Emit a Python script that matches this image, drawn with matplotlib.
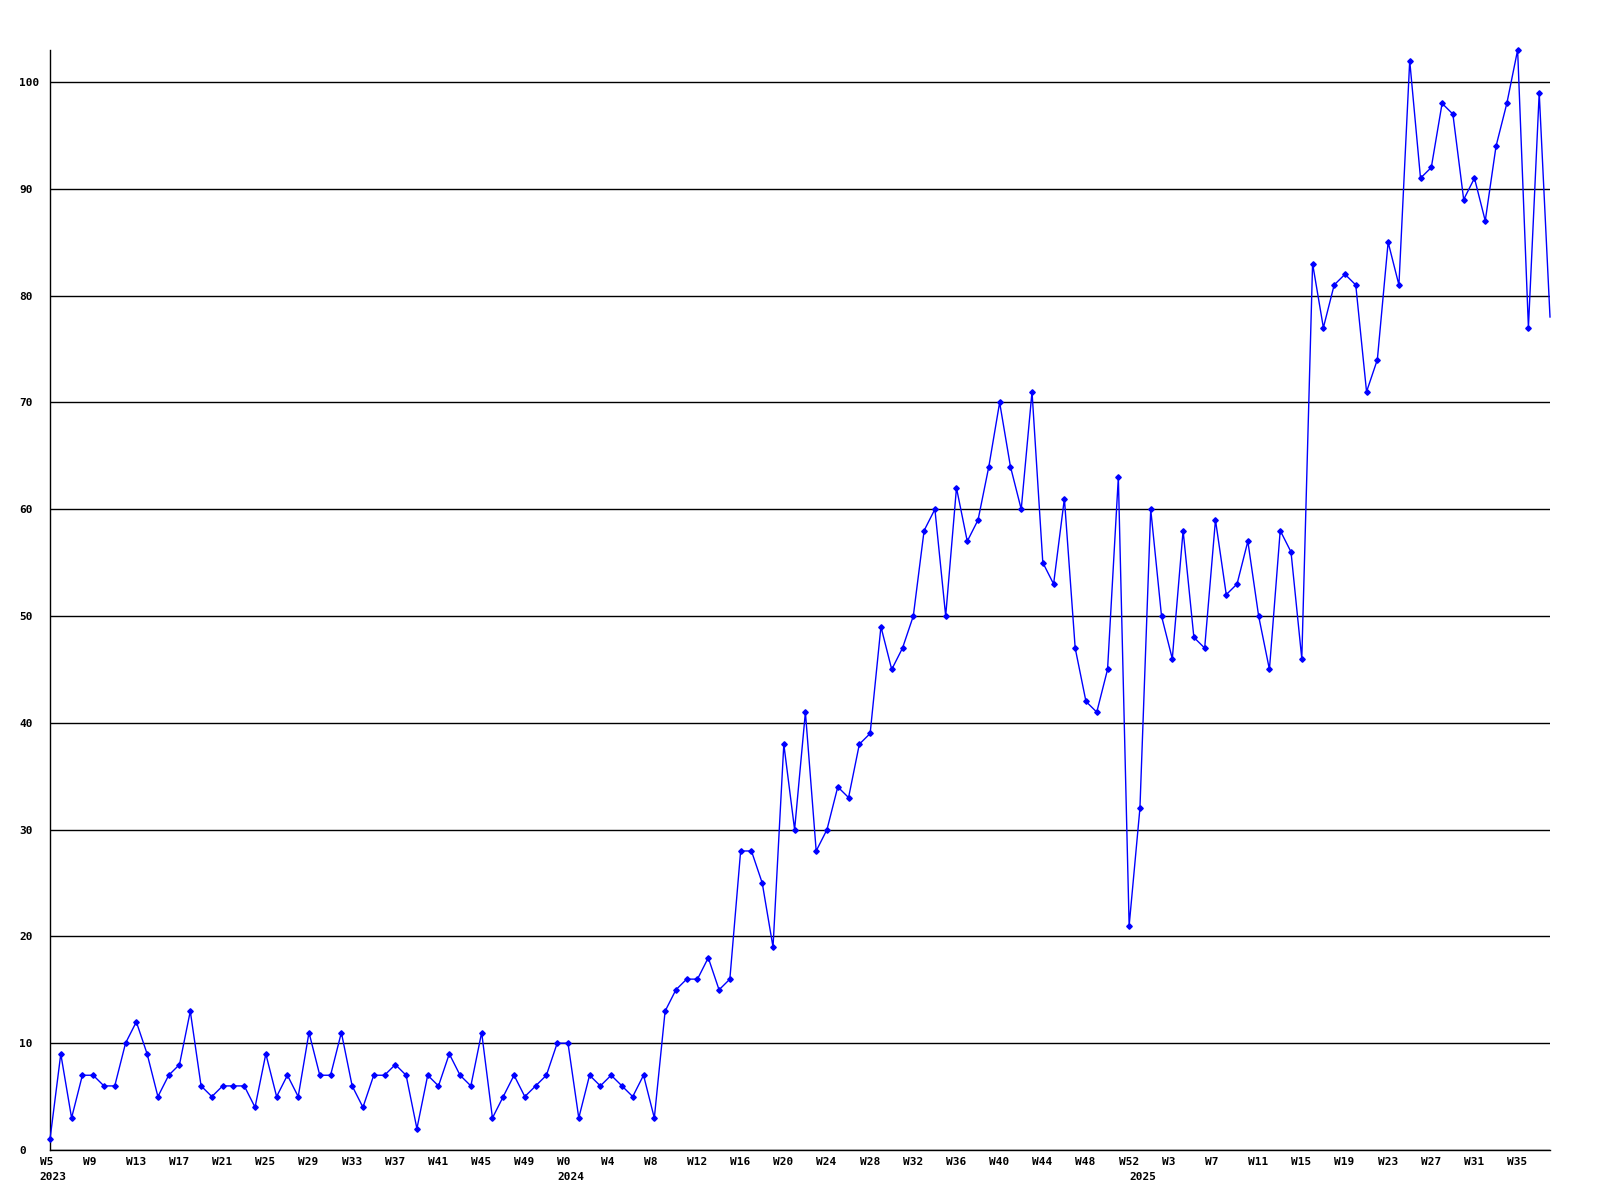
import matplotlib
matplotlib.use('Agg')
import matplotlib.pyplot as plt
import matplotlib.transforms as mtransforms

# weekly counts, W5 2023 .. last (partial) week 2025
values = [1, 9, 3, 7, 7, 6, 6, 10, 12, 9, 5, 7, 8, 13, 6, 5, 6, 6, 6, 4,
          9, 5, 7, 5, 11, 7, 7, 11, 6, 4, 7, 7, 8, 7, 2, 7, 6, 9, 7, 6,
          11, 3, 5, 7, 5, 6, 7, 10, 10, 3, 7, 6, 7, 6, 5, 7, 3, 13, 15, 16,
          16, 18, 15, 16, 28, 28, 25, 19, 38, 30, 41, 28, 30, 34, 33, 38, 39, 49, 45, 47,
          50, 58, 60, 50, 62, 57, 59, 64, 70, 64, 60, 71, 55, 53, 61, 47, 42, 41, 45, 63,
          21, 32, 60, 50, 46, 58, 48, 47, 59, 52, 53, 57, 50, 45, 58, 56, 46, 83, 77, 81,
          82, 81, 71, 74, 85, 81, 102, 91, 92, 98, 97, 89, 91, 87, 94, 98, 103, 77, 99, 78]

# year of each point (2023: W5-W52, 2024: W0-W52, 2025: W0-...)
point_years = ['2023'] * 48 + ['2024'] * 53 + ['2025'] * 39

# one label every 4 weeks
week_labels = ['W5', 'W9', 'W13', 'W17', 'W21', 'W25', 'W29', 'W33', 'W37', 'W41',
               'W45', 'W49', 'W0', 'W4', 'W8', 'W12', 'W16', 'W20', 'W24', 'W28',
               'W32', 'W36', 'W40', 'W44', 'W48', 'W52', 'W3', 'W7', 'W11', 'W15',
               'W19', 'W23', 'W27', 'W31', 'W35']

y_ticks = [0, 10, 20, 30, 40, 50, 60, 70, 80, 90, 100]

font = dict(family='DejaVu Sans Mono', weight='bold', size=8)

fig = plt.figure(figsize=(16, 12), dpi=100)
ax = fig.add_axes([50 / 1600, 50 / 1200, 1500 / 1600, 1100 / 1200])

x = list(range(len(values)))
ax.plot(x, values, color='#0000ff', lw=1, marker='D', ms=2.8,
        markevery=list(range(len(values) - 1)), clip_on=False, zorder=3)

ax.set_xlim(0, len(values) - 1)
ax.set_ylim(0, max(values))

# horizontal black grid
ax.set_yticks(y_ticks)
ax.set_yticklabels([str(v) for v in y_ticks], fontdict=font, ha='left')
ax.yaxis.grid(True, color='black', lw=1)
ax.set_axisbelow(True)

# week labels every 4 points
ax.set_xticks(x[::4][:len(week_labels)])
ax.set_xticklabels(week_labels, fontdict=font, ha='left')

# year labels on a second row, under the first week of each year
year_pos = [i for i in x if i == 0 or point_years[i] != point_years[i - 1]]
ax.xaxis.remove_overlapping_locs = False
ax.set_xticks(year_pos, minor=True)
ax.set_xticklabels([point_years[i] for i in year_pos], minor=True,
                   fontdict=font, ha='left')

ax.tick_params(axis='y', length=0, pad=22.3)
ax.tick_params(axis='x', which='major', length=0, pad=5)
ax.tick_params(axis='x', which='minor', length=0, pad=15.8)

offset = mtransforms.ScaledTranslation(-10.5 / 100, 0, fig.dpi_scale_trans)
for lab in ax.get_xticklabels() + ax.get_xticklabels(minor=True):
    lab.set_transform(lab.get_transform() + offset)

for side in ['top', 'right']:
    ax.spines[side].set_visible(False)
for side in ['left', 'bottom']:
    ax.spines[side].set_color('black')
    ax.spines[side].set_linewidth(1)

fig.savefig('out.png', dpi=100, facecolor='white')
